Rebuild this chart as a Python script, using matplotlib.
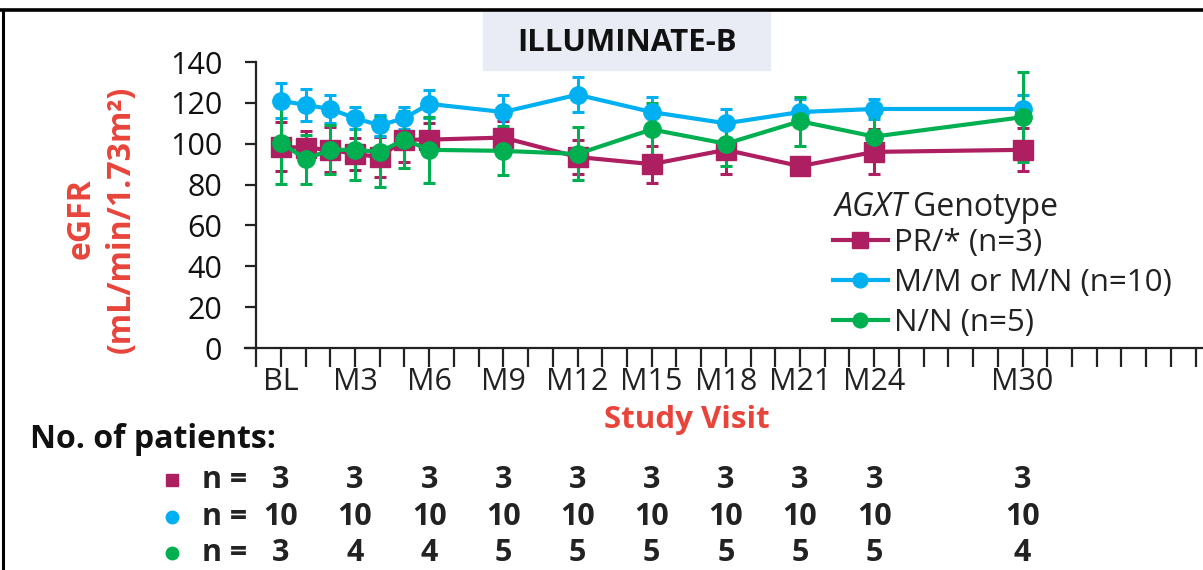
import matplotlib
matplotlib.use('Agg')
import matplotlib.pyplot as plt
from matplotlib.lines import Line2D
from matplotlib.patches import Rectangle
from matplotlib.transforms import blended_transform_factory

plt.rcParams['font.family'] = ['Open Sans', 'DejaVu Sans']

# data
months = [0, 1, 2, 3, 4, 5, 6, 9, 12, 15, 18, 21, 24, 30]
pr_mean = [98.5, 98, 97, 95, 93.5, 102, 102, 103, 93.5, 90, 97, 89, 96, 97]
pr_err = [12, 8, 11, 8, 10, 11, 8, 8, 8.5, 9, 12, 0, 11, 10.5]
mm_mean = [121, 119, 117, 112.5, 109, 112.5, 119.5, 115.5, 124, 115.5, 110, 115.5, 117, 117]
mm_err = [8.5, 8, 7, 5.5, 5, 5.5, 7, 8.5, 8.5, 7.5, 7, 6.5, 5, 7]
nn_mean = [100.5, 92.5, 97, 97, 96, 102, 97, 96.5, 95, 107, 100, 111, 103.5, 113]
nn_err = [20, 12, 12, 15, 17, 14, 16, 12, 13, 13, 11, 12, 10, 22]

visit_pos = [0, 3, 6, 9, 12, 15, 18, 21, 24, 30]
visit_labels = ['BL', 'M3', 'M6', 'M9', 'M12', 'M15', 'M18', 'M21', 'M24', 'M30']
n_pr = [3, 3, 3, 3, 3, 3, 3, 3, 3, 3]
n_mm = [10, 10, 10, 10, 10, 10, 10, 10, 10, 10]
n_nn = [3, 4, 4, 5, 5, 5, 5, 5, 5, 4]

c_pr = '#AD1F61'
c_mm = '#00B0F0'
c_nn = '#00B050'
red = '#E8443A'
txt = '#222222'

W, H = 1203, 570
fig = plt.figure(figsize=(W / 100, H / 100), dpi=100)
ax = fig.add_axes([245 / W, (H - 348) / H, (W - 245) / W, (348 - 62) / H])

series = [
    (pr_mean, pr_err, c_pr, 's', 14, 'PR/* (n=3)'),
    (mm_mean, mm_err, c_mm, 'o', 12.5, 'M/M or M/N (n=10)'),
    (nn_mean, nn_err, c_nn, 'o', 12.5, 'N/N (n=5)'),
]
handles = []
for mean, err, col, mk, ms, lab in series:
    ax.errorbar(months, mean, yerr=err, color=col, lw=3, marker=mk, ms=ms,
                elinewidth=2.2, capsize=4.5, capthick=2.2, clip_on=False)
    handles.append(Line2D([], [], color=col, lw=3, marker=mk, ms=ms * 0.85, label=lab))

ax.set_xlim(-1.45, 37.3)
ax.set_ylim(0, 140)
ax.spines['top'].set_visible(False)
ax.spines['right'].set_visible(False)
ax.spines['left'].set_position(('data', -1))
for s in ['left', 'bottom']:
    ax.spines[s].set_linewidth(1.6)
    ax.spines[s].set_color(txt)

ticks = list(range(-1, 38))
ax.set_xticks(ticks)
ax.set_xticklabels([visit_labels[visit_pos.index(t)] if t in visit_pos else '' for t in ticks])
ax.set_yticks(range(0, 141, 20))
ax.tick_params(axis='x', direction='out', length=13.5, width=1.6, color=txt,
               labelsize=22, labelcolor=txt, pad=0.5)
ax.tick_params(axis='y', direction='out', length=8, width=1.6, color=txt,
               labelsize=22, labelcolor='#111111', pad=16.5)

fig.text(101 / W, (H - 219) / H, 'eGFR\n(mL/min/1.73m²)', rotation=90, color=red,
         fontsize=23, fontweight='bold', ha='center', va='center',
         multialignment='center', linespacing=1.3)
fig.text(687 / W, (H - 420) / H, 'Study Visit', color=red, fontsize=22.5,
         fontweight='bold', ha='center', va='center')

# legend
fig.text(835 / W, (H - 208) / H, 'AGXT', style='italic', fontsize=23, color=txt,
         ha='left', va='center')
fig.text(913 / W, (H - 208) / H, 'Genotype', fontsize=23, color=txt,
         ha='left', va='center')
fig.legend(handles=handles, loc='upper left', bbox_to_anchor=(833 / W, (H - 228) / H),
           frameon=False, fontsize=22.5, labelcolor=txt, handlelength=1.75,
           handletextpad=0.2, labelspacing=0.32, borderpad=0, borderaxespad=0)

# title box
fig.patches.append(Rectangle((483 / W, (H - 70) / H), 287 / W, 58 / H,
                             transform=fig.transFigure, color='#E9EBF5', zorder=0))
fig.text(627 / W, (H - 43) / H, 'ILLUMINATE-B', fontsize=22.5, fontweight='bold',
         color='#111111', ha='center', va='center')

# frame lines
fig.add_artist(Line2D([0, 1], [(H - 10) / H] * 2, color='black', lw=2.6))
fig.add_artist(Line2D([3 / W] * 2, [0, (H - 10) / H], color='black', lw=2.2))

# number of patients table
fig.text(30 / W, (H - 440) / H, 'No. of patients:', fontsize=23, fontweight='bold',
         color='#111111', ha='left', va='center')
tr = blended_transform_factory(ax.transData, fig.transFigure)
rows = [(n_pr, c_pr, 's', 480), (n_mm, c_mm, 'o', 517), (n_nn, c_nn, 'o', 553)]
for counts, col, mk, yp in rows:
    yf = (H - yp) / H
    ax.plot([-4.4], [yf], transform=tr, marker=mk, color=col, ms=9, clip_on=False)
    ax.text(-3.2, yf, 'n =', transform=tr, fontsize=22, fontweight='bold', color=txt,
            ha='left', va='center')
    for xp, n in zip(visit_pos, counts):
        ax.text(xp, yf, str(n), transform=tr, fontsize=22, fontweight='bold', color=txt,
                ha='center', va='center')

fig.savefig('out.png', dpi=100)
